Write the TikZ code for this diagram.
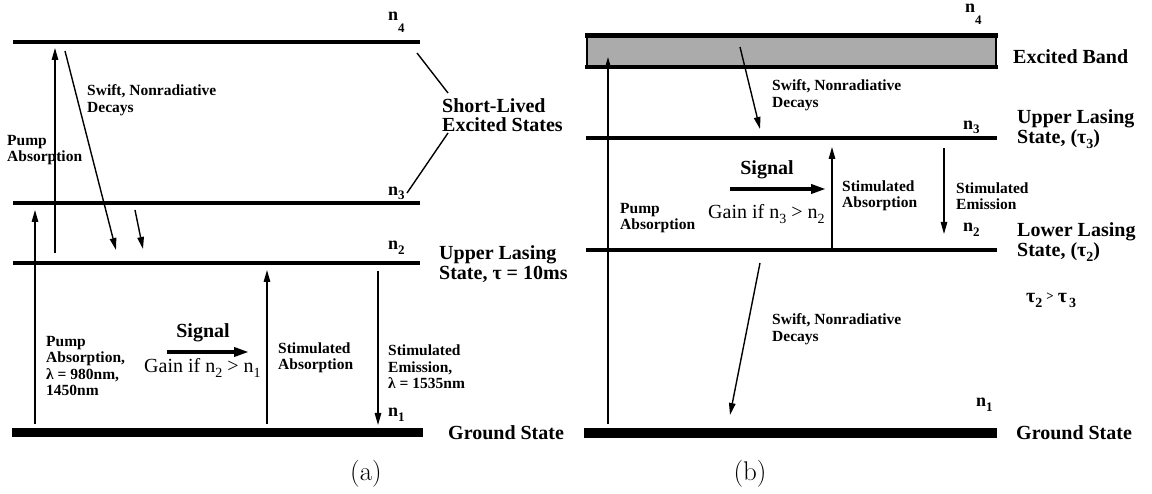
\documentclass[tikz,border=0pt]{standalone}
\usepackage{fontspec}
\usetikzlibrary{arrows.meta}
\newfontfamily\tms{Liberation Serif}
\newcommand{\nlab}[2]{n\raisebox{-#2pt}{\fontsize{13}{13}\selectfont #1}}
\newcommand{\gsub}[1]{\raisebox{-5pt}{\fontsize{14}{14}\selectfont #1}}
\tikzset{
 lvl/.style={line width=4.5pt},
 gnd/.style={line width=9pt},
 arr/.style={line width=1.4pt,-{Triangle[length=12pt,width=6.5pt]}},
 sigarr/.style={line width=3.6pt,-{Triangle[length=15pt,width=9pt]}},
 conn/.style={line width=1.4pt},
 small/.style={font=\tms\bfseries\fontsize{15.5}{16.5}\selectfont,align=left,inner sep=0pt,anchor=west},
 big/.style={font=\tms\bfseries\fontsize{20}{19.5}\selectfont,align=left,inner sep=0pt,anchor=west},
 gain/.style={font=\tms\fontsize{20}{20}\selectfont,inner sep=0pt,anchor=west},
 nl/.style={font=\tms\bfseries\fontsize{18}{18}\selectfont,inner sep=0pt,anchor=west},
 captext/.style={font=\fontsize{27}{27}\selectfont,inner sep=0pt},
}
\begin{document}
\begin{tikzpicture}[x=1pt,y=-1pt]
\useasboundingbox[fill=white] (0,0) rectangle (1152,494);
% ---------------- panel (a) ----------------
\draw[lvl] (13,42) -- (420,42);
\draw[lvl] (13,203) -- (420,203);
\draw[lvl] (13,263) -- (420,263);
\draw[gnd] (12,432) -- (423,432);
\coordinate (a4r) at (417,53);
\coordinate (a3r) at (407,193);
\coordinate (apl0) at (35,424);
\coordinate (apl1) at (35,210);
\coordinate (apu0) at (55,253);
\coordinate (apu1) at (55,48);
\coordinate (ad10) at (65,51);
\coordinate (ad11) at (116,250);
\coordinate (ad20) at (135,210);
\coordinate (ad21) at (143,249);
\coordinate (asa0) at (267,424);
\coordinate (asa1) at (267,270);
\coordinate (ase0) at (378,271);
\coordinate (ase1) at (378,425);
\coordinate (asg0) at (167,352);
\coordinate (asg1) at (249,352);
\draw[arr] (apl0) -- (apl1);
\draw[arr] (apu0) -- (apu1);
\draw[arr] (ad10) -- (ad11);
\draw[arr] (ad20) -- (ad21);
\draw[arr] (asa0) -- (asa1);
\draw[arr] (ase0) -- (ase1);
\draw[sigarr] (asg0) -- (asg1);
\node[small] (aswift) at (87,100) {Swift, Nonradiative\\Decays};
\node[small] (apump) at (7,150) {Pump\\Absorption};
\node[small] (apump2) at (46,366) {Pump\\Absorption,\\λ = 980nm,\\1450nm};
\node[small] (astabs) at (278,358) {Stimulated\\Absorption};
\node[small] (astem) at (388,367) {Stimulated\\Emission,\\λ = 1535nm};
\node[big] (ashort) at (442,115) {Short-Lived\\Excited States};
\node[big] (aupper) at (439,264) {Upper Lasing\\State, τ = 10ms};
\node[big] (aground) at (448,433) {Ground State};
\node[font=\tms\bfseries\fontsize{20}{20}\selectfont,inner sep=0pt] (asignal) at (203,333) {Signal};
\node[gain] (again) at (144,368) {Gain if n\gsub{2} > n\gsub{1}};
\node[nl] (an4) at (388,22) {\nlab{4}{12}};
\node[nl] (an3) at (388,193) {\nlab{3}{4}};
\node[nl] (an2) at (388,248) {\nlab{2}{5}};
\node[nl] (an1) at (388,415) {\nlab{1}{5}};
\coordinate (ash1) at (448,93);
\coordinate (ash2) at (448,133);
\draw[conn] (a4r) -- (ash1);
\draw[conn] (ash2) -- (a3r);
\node[captext] (capa) at (366,474) {(a)};
% ---------------- panel (b) ----------------
\fill[black!33] (587,36) rectangle (997,67);
\draw[line width=2pt] (587,36) -- (587,67) (996,36) -- (996,67);
\draw[line width=5pt] (585,36) -- (998,36);
\draw[line width=4.5pt] (585,67) -- (998,67);
\draw[lvl] (586,138) -- (997,138);
\draw[lvl] (586,250) -- (997,250);
\draw[line width=10pt] (584,433) -- (997,433);
\coordinate (bp0) at (608,424);
\coordinate (bp1) at (608,57);
\coordinate (bd10) at (740,47);
\coordinate (bd11) at (760,129);
\coordinate (bd20) at (760,263);
\coordinate (bd21) at (730,415);
\coordinate (bsa0) at (832,248);
\coordinate (bsa1) at (832,147);
\coordinate (bse0) at (944,148);
\coordinate (bse1) at (944,234);
\coordinate (bsg0) at (730,189);
\coordinate (bsg1) at (826,189);
\draw[arr] (bp0) -- (bp1);
\draw[arr] (bd10) -- (bd11);
\draw[arr] (bd20) -- (bd21);
\draw[arr] (bsa0) -- (bsa1);
\draw[arr] (bse0) -- (bse1);
\draw[sigarr] (bsg0) -- (bsg1);
\node[small] (bswift1) at (772,95) {Swift, Nonradiative\\Decays};
\node[small] (bswift2) at (772,329) {Swift, Nonradiative\\Decays};
\node[small] (bpump) at (620,218) {Pump\\Absorption};
\node[small] (bstabs) at (842,196) {Stimulated\\Absorption};
\node[small] (bstem) at (956,196) {Stimulated\\Emission};
\node[font=\tms\bfseries\fontsize{20}{20}\selectfont,inner sep=0pt] (bsignal) at (767,170) {Signal};
\node[gain] (bgain) at (708,214) {Gain if n\gsub{3} > n\gsub{2}};
\node[big] (bexc) at (1013,57) {Excited Band};
\node[big] (bupper) at (1017,129) {Upper Lasing\\State, (τ\gsub{3})};
\node[big] (blower) at (1017,242) {Lower Lasing\\State, (τ\gsub{2})};
\node[big] (btau) at (1026,300) {τ\gsub{2}\hspace{4pt}\raisebox{2pt}{\fontsize{13}{13}\selectfont >}\hspace{4pt}τ\hspace{2pt}\gsub{3}};
\node[big] (bground) at (1016,433) {Ground State};
\node[nl] (bn4) at (965,14) {\nlab{4}{12}};
\node[nl] (bn3) at (963,127) {\nlab{3}{4}};
\node[nl] (bn2) at (963,230) {\nlab{2}{5}};
\node[nl] (bn1) at (976,405) {\nlab{1}{5}};
\node[captext] (capb) at (750,474) {(b)};
\end{tikzpicture}
\end{document}
